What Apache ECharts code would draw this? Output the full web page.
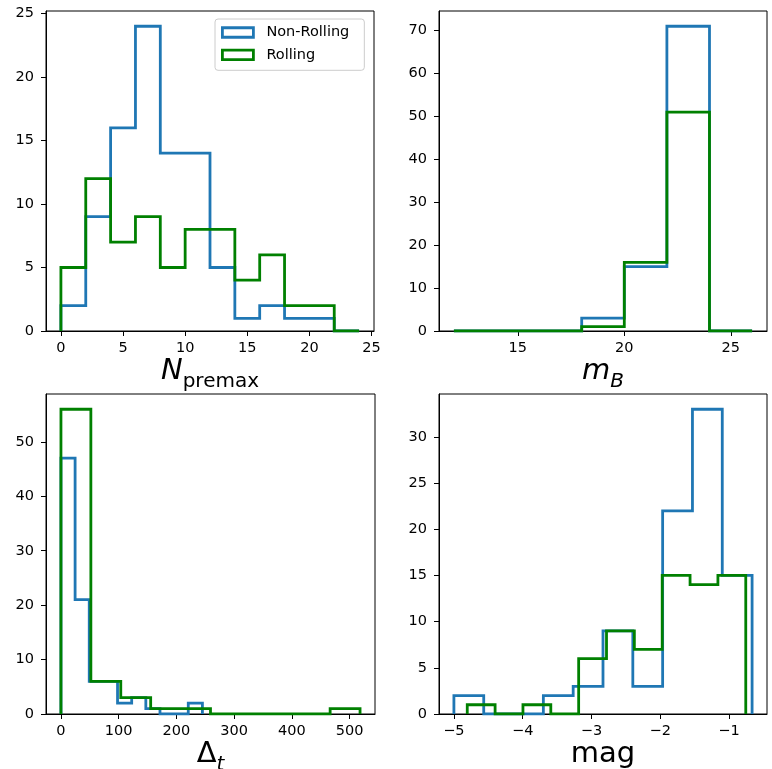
<!DOCTYPE html>
<html>
<head>
<meta charset="utf-8">
<script src="https://cdn.jsdelivr.net/npm/echarts@6/dist/echarts.min.js"></script>
<style>
  html, body { margin: 0; padding: 0; background: #ffffff; }
  #chart { width: 772px; height: 769px; }
</style>
</head>
<body>
<div id="chart"></div>
<script>
// ---- Histogram data (bin range [lo, hi] and counts per bin) ----
const seriesNames = ['Non-Rolling', 'Rolling'];

const npremaxRange = [0, 24];
const npremaxNonRolling = [2, 9, 16, 24, 14, 14, 5, 1, 2, 1, 1, 0];
const npremaxRolling    = [5, 12, 7, 9, 5, 8, 8, 4, 6, 2, 2, 0];

const mBRange = [12, 26];
const mBNonRolling = [0, 0, 0, 3, 15, 71, 0];
const mBRolling    = [0, 0, 0, 1, 16, 51, 0];

const dtRangeNonRolling = [0, 245];
const dtNonRolling = [47, 21, 6, 6, 2, 3, 1, 0, 0, 2];
const dtRangeRolling = [0, 518];
const dtRolling    = [56, 6, 3, 1, 1, 0, 0, 0, 0, 1];

const magRangeNonRolling = [-5.0, -0.665];
const magNonRolling = [2, 0, 0, 2, 3, 9, 3, 22, 33, 15];
const magRangeRolling = [-4.806, -0.757];
const magRolling    = [1, 0, 1, 0, 6, 9, 7, 15, 14, 15];

// ---- Tick values ----
const npremaxXTicks = [0, 5, 10, 15, 20, 25];
const npremaxYTicks = [0, 5, 10, 15, 20, 25];
const mBXTicks = [15, 20, 25];
const mBYTicks = [0, 10, 20, 30, 40, 50, 60, 70];
const dtXTicks = [0, 100, 200, 300, 400, 500];
const dtYTicks = [0, 10, 20, 30, 40, 50];
const magXTicks = [-5, -4, -3, -2, -1];
const magYTicks = [0, 5, 10, 15, 20, 25, 30];

// ---- Styling ----
const COLORS = ['#1f77b4', '#008000'];
const FONT = 'DejaVu Sans';
const TICK_FS = 14.5;
const NAME_FS = 29;
const SUB_FS = 20;
const LW = 2.8;

// Outline of a step histogram: up the first edge, across each bin, down the last edge.
function stepOutline(range, counts) {
  const n = counts.length;
  const w = (range[1] - range[0]) / n;
  const pts = [[range[0], 0]];
  for (let i = 0; i < n; i++) {
    const x0 = range[0] + i * w;
    pts.push([x0, counts[i]], [x0 + w, counts[i]]);
  }
  pts.push([range[1], 0]);
  return pts;
}

// Axis limits with 5% padding on the data span, like the usual autoscale.
function padded(lo, hi) {
  const m = 0.05 * (hi - lo);
  return [lo - m, hi + m];
}

const minusFmt = v => (v < 0 ? '\u2212' + Math.abs(v) : String(v));

const panels = [
  { grid: { left: 46, top: 11, width: 328, height: 320 },
    ranges: [npremaxRange, npremaxRange], counts: [npremaxNonRolling, npremaxRolling],
    xTicks: npremaxXTicks, yTicks: npremaxYTicks,
    name: '{i|N}{s|premax}', subItalic: false },
  { grid: { left: 439, top: 11, width: 328, height: 320 },
    ranges: [mBRange, mBRange], counts: [mBNonRolling, mBRolling],
    xTicks: mBXTicks, yTicks: mBYTicks,
    name: '{i|m}{s|B}', subItalic: true },
  { grid: { left: 46, top: 394, width: 329, height: 320 },
    ranges: [dtRangeNonRolling, dtRangeRolling], counts: [dtNonRolling, dtRolling],
    xTicks: dtXTicks, yTicks: dtYTicks,
    name: '{u|\u0394}{s|t}', subItalic: true },
  { grid: { left: 439, top: 394, width: 328, height: 320 },
    ranges: [magRangeNonRolling, magRangeRolling], counts: [magNonRolling, magRolling],
    xTicks: magXTicks, yTicks: magYTicks,
    name: '{u|mag}', subItalic: false }
];

const grids = [], xAxes = [], yAxes = [], series = [];

panels.forEach((p, k) => {
  grids.push(Object.assign({
    show: true, borderColor: '#000', borderWidth: 1, backgroundColor: 'transparent',
    containLabel: false, outerBoundsMode: 'none'
  }, p.grid));

  const lo = Math.min(p.ranges[0][0], p.ranges[1][0]);
  const hi = Math.max(p.ranges[0][1], p.ranges[1][1]);
  const xr = padded(lo, hi);
  const ymax = 1.05 * Math.max(...p.counts[0], ...p.counts[1]);

  xAxes.push({
    type: 'value', gridIndex: k, min: xr[0], max: xr[1],
    axisLine: { show: true, onZero: false, lineStyle: { color: '#000', width: 1 } },
    axisTick: { show: true, length: 5, customValues: p.xTicks, lineStyle: { color: '#000', width: 1 } },
    axisLabel: { customValues: p.xTicks, margin: 10, fontSize: TICK_FS, color: '#000', fontFamily: FONT, formatter: minusFmt },
    splitLine: { show: false },
    name: p.name, nameLocation: 'middle', nameGap: 21,
    nameTextStyle: {
      fontFamily: FONT, color: '#000',
      rich: {
        i: { fontSize: NAME_FS, fontStyle: 'italic', fontFamily: FONT, color: '#000', lineHeight: 30, verticalAlign: 'top' },
        u: { fontSize: NAME_FS, fontFamily: FONT, color: '#000', lineHeight: 30, verticalAlign: 'top' },
        s: { fontSize: SUB_FS, fontStyle: p.subItalic ? 'italic' : 'normal', fontFamily: FONT, color: '#000',
             lineHeight: 20, verticalAlign: 'top', padding: [15, 0, 0, 0] }
      }
    }
  });

  yAxes.push({
    type: 'value', gridIndex: k, min: 0, max: ymax,
    axisLine: { show: true, onZero: false, lineStyle: { color: '#000', width: 1 } },
    axisTick: { show: true, length: 5, customValues: p.yTicks, lineStyle: { color: '#000', width: 1 } },
    axisLabel: { customValues: p.yTicks, margin: 12, fontSize: TICK_FS, color: '#000', fontFamily: FONT },
    splitLine: { show: false }
  });

  for (let s = 0; s < 2; s++) {
    series.push({
      type: 'line', name: seriesNames[s], xAxisIndex: k, yAxisIndex: k,
      data: stepOutline(p.ranges[s], p.counts[s]),
      showSymbol: false, symbol: 'none', clip: true,
      lineStyle: { color: COLORS[s], width: LW, join: 'miter', cap: 'butt' },
      itemStyle: { color: COLORS[s] },
      z: 2 + s
    });
  }
});

const chart = echarts.init(document.getElementById('chart'), null, { renderer: 'canvas' });
chart.setOption({
  animation: false,
  backgroundColor: '#ffffff',
  grid: grids,
  xAxis: xAxes,
  yAxis: yAxes,
  legend: {
    orient: 'vertical', left: 215, top: 19,
    padding: [5, 15, 7, 6],
    itemWidth: 31, itemHeight: 9.5, itemGap: 5.3,
    backgroundColor: 'rgba(255,255,255,0.8)',
    borderColor: '#cccccc', borderWidth: 1, borderRadius: 3,
    textStyle: { fontFamily: FONT, fontSize: TICK_FS, color: '#000', lineHeight: 17, padding: [0, 0, 0, 8] },
    selectedMode: false,
    data: seriesNames.map((n, i) => ({
      name: n, icon: 'rect',
      itemStyle: { color: 'rgba(0,0,0,0)', borderColor: COLORS[i], borderWidth: LW }
    }))
  },
  series: series
});
</script>
</body>
</html>
